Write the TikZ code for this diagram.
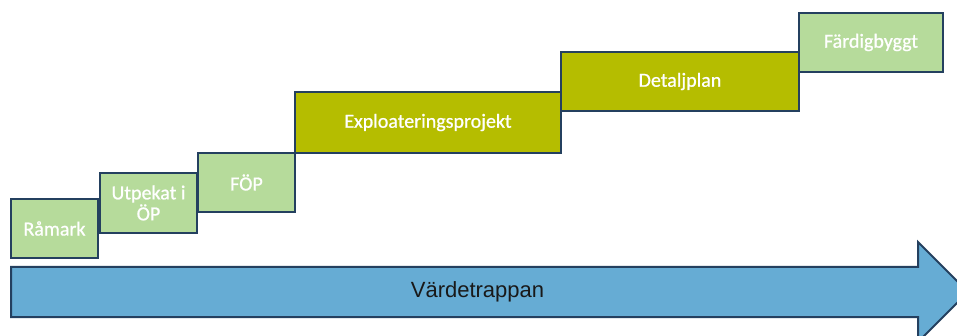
\documentclass[tikz,border=0pt]{standalone}
\usepackage{fontspec}
\setmainfont{Carlito}
\newfontfamily\boxfont{Carlito}[FakeBold=0.8]
\newfontfamily\arialfont{Liberation Sans}
\definecolor{lgreen}{HTML}{B6DB9B}
\definecolor{olive}{HTML}{B5BD00}
\definecolor{arrowblue}{HTML}{66ACD4}
\definecolor{navy}{HTML}{24405F}
\begin{document}
\begin{tikzpicture}[x=1pt,y=-1pt,
  stepbox/.style={draw=navy,line width=1.4pt,inner sep=0pt,align=center,
    text=white,font=\boxfont\fontsize{20}{21}\selectfont},
  lightbox/.style={stepbox,fill=lgreen},
  olivebox/.style={stepbox,fill=olive}]
\clip (0,0) rectangle (957,336);
\fill[white] (0,0) rectangle (957,336);
% arrow
\draw[draw=navy,line width=2pt,fill=arrowblue,line join=miter]
  (11,267) -- (918,267) -- (918,242) -- (968,292) -- (918,342) -- (918,317) -- (11,317) -- cycle;
\node[font=\arialfont\fontsize{22}{24}\selectfont,text=black!90] (vt) at (477.5,292) {Värdetrappan};
% steps
\node[lightbox,minimum width=87pt,minimum height=59pt] (ramark) at (54.5,228.5) {Råmark};
\node[lightbox,minimum width=97pt,minimum height=60pt] (utpekat) at (148.5,203) {Utpekat i\\ÖP};
\node[lightbox,minimum width=97pt,minimum height=59pt] (fop) at (246.5,182.5) {FÖP};
\node[olivebox,minimum width=266pt,minimum height=61pt] (expl) at (428,122.5) {Exploateringsprojekt};
\node[olivebox,minimum width=238pt,minimum height=59pt] (detalj) at (680,81.5) {Detaljplan};
\node[lightbox,minimum width=144pt,minimum height=59pt] (fardig) at (871,42.5) {Färdigbyggt};
\end{tikzpicture}
\end{document}
